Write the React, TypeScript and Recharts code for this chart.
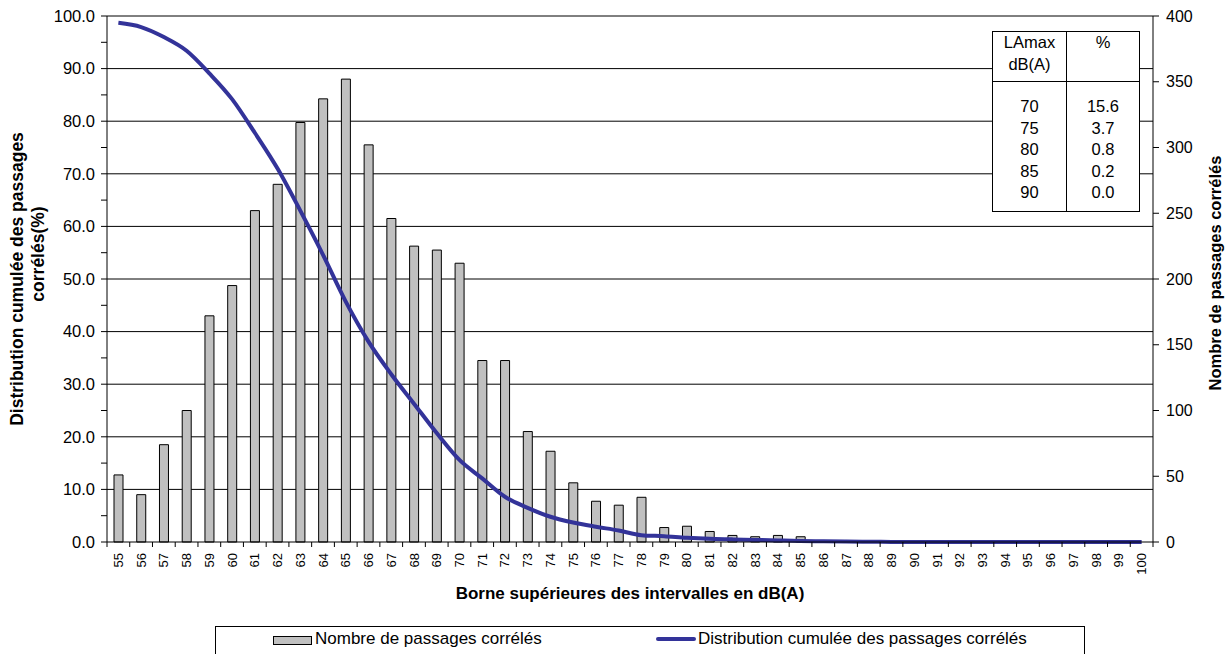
import {
  ComposedChart, Bar, Line, XAxis, YAxis, CartesianGrid,
} from 'recharts'

const dbLevels = [
  55, 56, 57, 58, 59, 60, 61, 62, 63, 64, 65, 66, 67, 68, 69, 70, 71, 72, 73, 74, 75, 76, 77,
  78, 79, 80, 81, 82, 83, 84, 85, 86, 87, 88, 89, 90, 91, 92, 93, 94, 95, 96, 97, 98, 99, 100,
]

// nombre de passages corrélés (axe droit)
const passageCounts = [
  51, 36, 74, 100, 172, 195, 252, 272, 319, 337, 352, 302, 246, 225, 222, 212, 138, 138, 84, 69, 45, 31, 28,
  34, 11, 12, 8, 5, 4, 5, 4, 1, 1, 0, 0, 0, 0, 0, 0, 0, 0, 0, 0, 0, 0, 0,
]

// distribution cumulée (%) (axe gauche)
const cumulativePct = [
  98.7, 97.9, 96.0, 93.4, 89.1, 84.2, 77.8, 71.0, 63.0, 54.6, 45.7, 38.1, 31.9, 26.3, 20.7, 15.6, 12.1, 8.6, 6.5, 4.8, 3.7, 2.9, 2.2,
  1.3, 1.1, 0.8, 0.6, 0.5, 0.4, 0.3, 0.2, 0.15, 0.1, 0.05, 0.02, 0, 0, 0, 0, 0, 0, 0, 0, 0, 0, 0,
]

const leftTicks = [0, 5, 10, 15, 20, 25, 30, 35, 40, 45, 50, 55, 60, 65, 70, 75, 80, 85, 90, 95, 100]
const gridValues = [10, 20, 30, 40, 50, 60, 70, 80, 90, 100]
const rightTicks = [0, 50, 100, 150, 200, 250, 300, 350, 400]

const tableLevels = ['70', '75', '80', '85', '90']
const tablePct = ['15.6', '3.7', '0.8', '0.2', '0.0']

const W = 1231
const H = 654
const PLOT_LEFT = 107
const PLOT_RIGHT = 1153
const PLOT_TOP = 16
const PLOT_BOTTOM = 542
const BAND = (PLOT_RIGHT - PLOT_LEFT) / dbLevels.length
const FONT = '"Liberation Sans", Arial, sans-serif'
const NAVY = '#333399'

function XTick(props: any) {
  const { x, payload, index } = props
  const ty = PLOT_BOTTOM + 11
  return (
    <g>
      <line x1={x - BAND / 2} x2={x - BAND / 2} y1={PLOT_BOTTOM} y2={PLOT_BOTTOM + 5} stroke="#000" />
      {index === dbLevels.length - 1 && (
        <line x1={x + BAND / 2} x2={x + BAND / 2} y1={PLOT_BOTTOM} y2={PLOT_BOTTOM + 5} stroke="#000" />
      )}
      <text
        x={x}
        y={ty}
        dy="0.35em"
        transform={`rotate(-90, ${x}, ${ty})`}
        textAnchor="end"
        fontSize={13}
        fill="#000"
      >
        {payload.value}
      </text>
    </g>
  )
}

export default function App() {
  const data = dbLevels.map((db, i) => ({
    db: String(db),
    count: passageCounts[i],
    cum: cumulativePct[i],
  }))

  return (
    <div style={{ position: 'absolute', left: 0, top: 0, width: W, height: H, fontFamily: FONT, background: '#fff' }}>
      <ComposedChart
        width={W}
        height={H}
        data={data}
        margin={{ top: PLOT_TOP, right: 0, bottom: 0, left: 0 }}
      >
        <CartesianGrid
          yAxisId="left"
          vertical={false}
          horizontalValues={gridValues}
          stroke="#000"
          strokeWidth={1}
        />
        <XAxis
          dataKey="db"
          interval={0}
          height={H - PLOT_BOTTOM}
          tickLine={false}
          axisLine={{ stroke: '#000' }}
          tick={<XTick />}
        />
        <YAxis
          yAxisId="left"
          orientation="left"
          width={PLOT_LEFT}
          domain={[0, 100]}
          ticks={leftTicks}
          interval={0}
          tickSize={6}
          tickMargin={6}
          tickLine={{ stroke: '#000' }}
          axisLine={{ stroke: '#000' }}
          tick={{ fill: '#000', fontSize: 16.5 }}
          tickFormatter={(v: number) => (v % 10 === 0 ? v.toFixed(1) : '')}
        />
        <YAxis
          yAxisId="right"
          orientation="right"
          width={W - PLOT_RIGHT}
          domain={[0, 400]}
          ticks={rightTicks}
          interval={0}
          tickSize={6}
          tickMargin={7}
          tickLine={{ stroke: '#000' }}
          axisLine={{ stroke: '#000' }}
          tick={{ fill: '#000', fontSize: 16, textAnchor: 'start' }}
        />
        <Bar
          yAxisId="right"
          dataKey="count"
          fill="#C0C0C0"
          stroke="#000"
          strokeWidth={1}
          barSize={9}
          isAnimationActive={false}
        />
        <Line
          yAxisId="left"
          type="monotone"
          dataKey="cum"
          stroke={NAVY}
          strokeWidth={4}
          dot={false}
          activeDot={false}
          isAnimationActive={false}
        />
      </ComposedChart>

      {/* axis titles */}
      <svg width={W} height={H} style={{ position: 'absolute', left: 0, top: 0, pointerEvents: 'none' }}>
        <g fontWeight="bold" fill="#000" textAnchor="middle" dominantBaseline="central">
          <text x={17} y={279} fontSize={17.5} transform="rotate(-90, 17, 279)">Distribution cumulée des passages</text>
          <text x={38} y={254} fontSize={17.5} transform="rotate(-90, 38, 254)">corrélés(%)</text>
          <text x={1215} y={273} fontSize={16.5} transform="rotate(-90, 1215, 273)">Nombre de passages corrélés</text>
          <text x={630} y={593} fontSize={17}>Borne supérieures des intervalles en dB(A)</text>
        </g>
      </svg>

      {/* tableau LAmax */}
      <div
        style={{
          position: 'absolute', left: 992, top: 31, width: 148, height: 181, boxSizing: 'border-box',
          border: '1px solid #000', background: '#fff', fontSize: 16.5, lineHeight: '21.5px', color: '#000',
          display: 'flex', flexDirection: 'column',
        }}
      >
        <div style={{ display: 'flex', height: 49, borderBottom: '1px solid #000' }}>
          <div style={{ width: 73, borderRight: '1px solid #000', textAlign: 'center' }}>LAmax<br />dB(A)</div>
          <div style={{ flex: 1, textAlign: 'center' }}>%</div>
        </div>
        <div style={{ display: 'flex', flex: 1 }}>
          <div style={{ width: 73, borderRight: '1px solid #000', textAlign: 'center', paddingTop: 14 }}>
            {tableLevels.map((l) => <div key={l}>{l}</div>)}
          </div>
          <div style={{ flex: 1, textAlign: 'center', paddingTop: 14 }}>
            {tablePct.map((p, i) => <div key={i}>{p}</div>)}
          </div>
        </div>
      </div>

      {/* légende */}
      <div
        style={{
          position: 'absolute', left: 215, top: 626, width: 870, height: 40, boxSizing: 'border-box',
          border: '1px solid #000', background: '#fff', fontSize: 17, color: '#000',
        }}
      >
        <div style={{ position: 'absolute', left: 57, top: 9, width: 37, height: 7, background: '#C0C0C0', border: '1px solid #000' }} />
        <div style={{ position: 'absolute', left: 99, top: 2, whiteSpace: 'nowrap', lineHeight: '20px' }}>Nombre de passages corrélés</div>
        <div style={{ position: 'absolute', left: 440, top: 10, width: 40, height: 4, background: NAVY, borderRadius: 2 }} />
        <div style={{ position: 'absolute', left: 482, top: 2, whiteSpace: 'nowrap', lineHeight: '20px' }}>Distribution cumulée des passages corrélés</div>
      </div>
    </div>
  )
}
